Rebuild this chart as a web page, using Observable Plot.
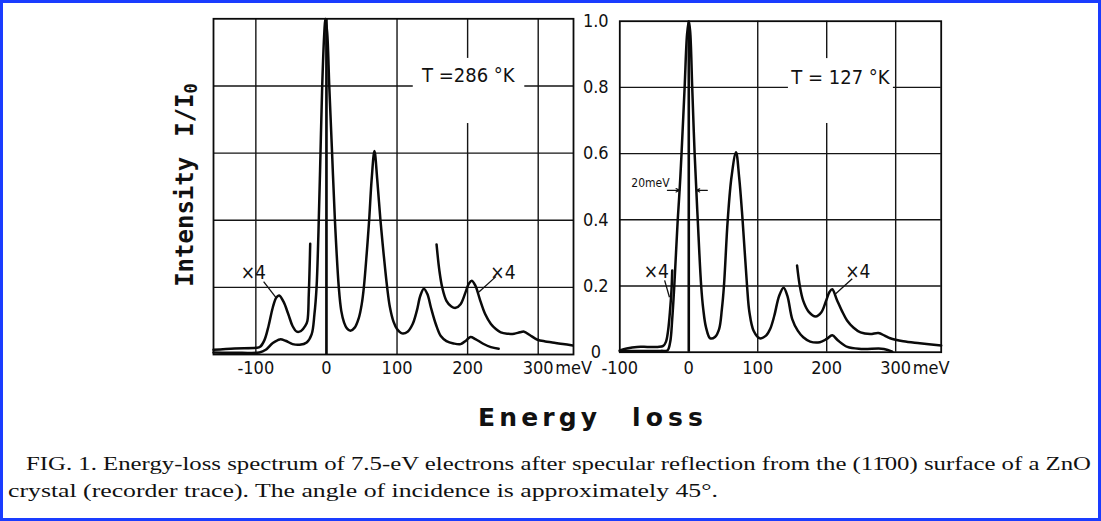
<!DOCTYPE html>
<html>
<head>
<meta charset="utf-8">
<script src="https://cdn.jsdelivr.net/npm/d3@7"></script>
<script src="https://cdn.jsdelivr.net/npm/@observablehq/plot@0.6"></script>
<style>
  html, body { margin: 0; padding: 0; background: white; }
  #wrap { position: relative; width: 1101px; height: 521px; box-sizing: border-box; border: 3px solid #1a3cff; overflow: hidden; background: white; }
  #wrap > .abs { position: absolute; }
  #overlay { position: absolute; left: -3px; top: -3px; pointer-events: none; }
</style>
</head>
<body>
<div id="wrap"></div>
<script>
// ---------------- DATA ----------------
// Tick values / labels
const xTicksLeft = [-100, 0, 100, 200, 300];
const xTicksRight = [-100, 0, 100, 200, 300];
const xGridLeft = [-100, 0, 100, 200, 300];
const xGridRight = [0, 100, 200, 300];
const yGrid = [0.2, 0.4, 0.6, 0.8];
const yTicks = [0, 0.2, 0.4, 0.6, 0.8, 1.0];
const yTickLabels = ["0", "0.2", "0.4", "0.6", "0.8", "1.0"];

// Left panel, T = 286 K : recorder trace x1  [energy loss meV, I/I0]
const left286x1 = [
  [-160, 0.006], [-120, 0.005], [-95, 0.006], [-86, 0.014], [-76, 0.034], [-66, 0.045], [-58, 0.041],
  [-48, 0.031], [-38, 0.029], [-28, 0.036], [-21, 0.06], [-17, 0.12], [-14, 0.2], [-11.5, 0.35],
  [-9, 0.55], [-6, 0.8], [-3, 0.96], [-1.5, 1.0], [1, 0.96], [4, 0.8], [8, 0.6], [12, 0.4],
  [17.5, 0.2], [21, 0.13], [25, 0.095], [29, 0.078], [34, 0.071], [40, 0.08], [46, 0.11], [50, 0.15],
  [53, 0.2], [57, 0.3], [60.5, 0.4], [64, 0.52], [68, 0.606], [72, 0.52], [76.5, 0.4], [81, 0.3],
  [86, 0.2], [90, 0.14], [95, 0.098], [100, 0.076], [107, 0.063], [115, 0.068], [122, 0.09],
  [128, 0.13], [133, 0.175], [138, 0.196], [143, 0.18], [148, 0.14], [155, 0.09], [162, 0.055],
  [170, 0.04], [180, 0.033], [190, 0.031], [198, 0.042], [204, 0.052], [211, 0.046], [222, 0.032],
  [233, 0.022], [244, 0.017]
];
// Left panel, x4 trace, low-energy side
const left286x4a = [
  [-160, 0.014], [-130, 0.018], [-100, 0.02], [-94, 0.023], [-88, 0.042], [-82, 0.085], [-76, 0.14],
  [-71, 0.17], [-67, 0.176], [-61, 0.158], [-54, 0.12], [-48, 0.085], [-42, 0.068], [-36, 0.07],
  [-30, 0.085], [-27, 0.1], [-25, 0.18], [-23, 0.33]
];
// Left panel, x4 trace, high-energy side
const left286x4b = [
  [156, 0.328], [160, 0.25], [164, 0.2], [170, 0.16], [177, 0.143], [183, 0.139], [190, 0.15],
  [197, 0.185], [202, 0.212], [206, 0.22], [211, 0.205], [218, 0.16], [225, 0.12], [233, 0.091],
  [240, 0.076], [247, 0.066], [256, 0.062], [266, 0.062], [274, 0.066], [280, 0.068], [288, 0.058],
  [299, 0.044], [310, 0.039], [320, 0.036], [335, 0.031], [349, 0.027]
];

// Right panel, T = 127 K : trace x1
const right127x1 = [
  [-100, 0.004], [-80, 0.004], [-60, 0.004], [-40, 0.004], [-31, 0.005], [-27, 0.03], [-24, 0.1],
  [-21, 0.2], [-16, 0.4], [-13, 0.5], [-10.5, 0.6], [-6, 0.8], [-2.5, 0.96], [0, 1.0], [2, 0.97],
  [5, 0.8], [8.5, 0.6], [13, 0.4], [18, 0.2], [21, 0.13], [25, 0.075], [31, 0.042], [38, 0.046],
  [44, 0.07], [48, 0.13], [51, 0.2], [56.5, 0.4], [62, 0.53], [68.5, 0.604], [73, 0.53], [78, 0.4],
  [84.5, 0.2], [88, 0.12], [94, 0.065], [103, 0.042], [112, 0.05], [118, 0.07], [124, 0.11],
  [131, 0.17], [137.5, 0.195], [143, 0.17], [150, 0.1], [158, 0.065], [166, 0.045], [176, 0.032],
  [190, 0.03], [200, 0.04], [208, 0.051], [216, 0.036], [230, 0.016], [250, 0.01], [283, 0.01],
  [295, 0.002]
];
// Right panel, x4 trace, low-energy side
const right127x4a = [
  [-100, 0.005], [-90, 0.011], [-75, 0.016], [-60, 0.016], [-45, 0.016], [-37, 0.019], [-33, 0.032],
  [-30, 0.065], [-27, 0.13], [-25, 0.19], [-24, 0.247]
];
// Right panel, x4 trace, high-energy side
const right127x4b = [
  [157, 0.262], [161, 0.2], [166, 0.155], [174, 0.122], [184, 0.108], [192, 0.12], [199, 0.155],
  [204, 0.182], [208, 0.19], [215, 0.157], [222, 0.125], [229.5, 0.096], [239, 0.074], [249, 0.06],
  [263, 0.055], [275, 0.058], [284, 0.05], [292, 0.042], [311, 0.033], [335, 0.027], [366, 0.02]
];

// Annotations (data coordinates)
const tempLabels = [{panel: "L", x: 201, y: 0.83, text: "T =286 °K"}, {panel: "R", x: 220, y: 0.83, text: "T = 127 °K"}];
const labelBoxes = [{panel: "L", x1: 123, x2: 281, y1: 0.688, y2: 0.882}, {panel: "R", x1: 144.5, x2: 296.7, y1: 0.691, y2: 0.887}];
const x4Labels = [
  {panel: "L", x: -103.5, y: 0.244}, {panel: "L", x: 250, y: 0.244},
  {panel: "R", x: -47, y: 0.244}, {panel: "R", x: 245, y: 0.243}
];
const x4Leaders = [
  {panel: "L", x1: -89, y1: 0.217, x2: -72, y2: 0.171}, {panel: "L", x1: 240, y1: 0.232, x2: 216, y2: 0.186},
  {panel: "R", x1: -35, y1: 0.217, x2: -28, y2: 0.166}, {panel: "R", x1: 237, y1: 0.222, x2: 212.6, y2: 0.176}
];
const widthArrows = [{x1: -31, x2: -13, y: 0.489}, {x1: 27, x2: 11, y: 0.489}];
const widthLabel = [{x: -55.5, y: 0.511, text: "20meV"}];

// ---------------- DRAW ----------------
const tickFont = "DejaVu Sans Condensed, DejaVu Sans, sans-serif";
const fmtX = d => d < 0 ? "-" + Math.abs(d) : String(d);
const wrap = document.getElementById("wrap");
const curveStyle = {x: d => d[0], y: d => d[1], curve: "catmull-rom", stroke: "#0a0a0a", strokeWidth: 2.5};

function panelMarks(panel, grid, c1, c4a, c4b, xTicks, tickDy) {
  return [
    Plot.ruleX(grid, {stroke: "#151515", strokeWidth: 1.4}),
    Plot.ruleY(yGrid, {stroke: "#151515", strokeWidth: 1.4}),
    Plot.rect(labelBoxes.filter(d => d.panel === panel), {x1: "x1", x2: "x2", y1: "y1", y2: "y2", fill: "white"}),
    Plot.ruleX([0], {stroke: "#0a0a0a", strokeWidth: 2.6}),
    Plot.frame({stroke: "#0a0a0a", strokeWidth: 1.8}),
    Plot.line(c1, curveStyle),
    Plot.line(c4a, curveStyle),
    Plot.line(c4b, curveStyle),
    Plot.link(x4Leaders.filter(d => d.panel === panel), {x1: "x1", y1: "y1", x2: "x2", y2: "y2", stroke: "#111", strokeWidth: 1.3}),
    Plot.text(x4Labels.filter(d => d.panel === panel), {x: "x", y: "y", text: () => "×4", fontSize: 19, fill: "#111"}),
    Plot.text(tempLabels.filter(d => d.panel === panel), {x: "x", y: "y", text: "text", fontSize: 20, fill: "#111"}),
    Plot.text(xTicks, {x: d => d, y: 0, dy: tickDy, text: fmtX, fontSize: 18, fill: "#111"}),
    Plot.text([300], {x: d => d, y: 0, dy: tickDy, dx: 17, text: () => "meV", textAnchor: "start", fontSize: 18, fill: "#111"})
  ];
}

const left = Plot.plot({
  width: 600, height: 400,
  marginLeft: 213, marginRight: 27, marginTop: 18.3, marginBottom: 46,
  x: {domain: [-160, 350]}, y: {domain: [0, 1]},
  axis: null,
  style: {background: "none", overflow: "visible", fontFamily: tickFont},
  marks: panelMarks("L", xGridLeft, left286x1, left286x4a, left286x4b, xTicksLeft, 14)
});
left.classList.add("abs");
left.style.left = "-3px"; left.style.top = "-3px";
wrap.appendChild(left);

const right = Plot.plot({
  width: 541, height: 400,
  marginLeft: 59.3, marginRight: 160.3, marginTop: 20.7, marginBottom: 48.3,
  x: {domain: [-100, 366]}, y: {domain: [0, 1]},
  axis: null,
  style: {background: "none", overflow: "visible", fontFamily: tickFont},
  marks: [
    ...panelMarks("R", xGridRight, right127x1, right127x4a, right127x4b, xTicksRight, 16.3),
    Plot.text(yTicks, {x: -100, y: d => d, dx: -24, text: (d, i) => yTickLabels[i], textAnchor: "middle", fontSize: 18, fill: "#111"}),
    Plot.arrow(widthArrows, {x1: "x1", x2: "x2", y1: "y", y2: "y", stroke: "#111", strokeWidth: 1.1, headLength: 6, headAngle: 50}),
    Plot.text(widthLabel, {x: "x", y: "y", text: "text", fontSize: 12, fill: "#111"})
  ]
});
right.classList.add("abs");
right.style.left = "557px"; right.style.top = "-3px";
wrap.appendChild(right);

// Titles and caption (real text)
const ns = "http://www.w3.org/2000/svg";
const ov = document.createElementNS(ns, "svg");
ov.setAttribute("id", "overlay");
ov.setAttribute("width", 1101); ov.setAttribute("height", 521);
ov.innerHTML = `
  <text transform="translate(193,185) rotate(-90)" text-anchor="middle" font-family="DejaVu Sans Mono" font-weight="bold" font-size="24" fill="#111">Intensity<tspan dx="20">I/I</tspan><tspan font-size="17" dy="4">0</tspan></text>
  <text x="478" y="426" font-family="DejaVu Sans" font-weight="bold" font-size="25" fill="#111" textLength="119" lengthAdjust="spacing">Energy</text>
  <text x="632" y="426" font-family="DejaVu Sans" font-weight="bold" font-size="25" fill="#111" textLength="71" lengthAdjust="spacing">loss</text>
  <text x="26" y="470" font-family="Liberation Serif" font-size="19" fill="#111" textLength="1065" lengthAdjust="spacingAndGlyphs">FIG. 1.  Energy-loss spectrum of 7.5-eV electrons after specular reflection from the (11̄00) surface of a ZnO</text>
  <text x="8" y="497" font-family="Liberation Serif" font-size="19" fill="#111" textLength="710" lengthAdjust="spacingAndGlyphs">crystal (recorder trace).  The angle of incidence is approximately 45°.</text>
`;
wrap.appendChild(ov);
</script>
</body>
</html>
